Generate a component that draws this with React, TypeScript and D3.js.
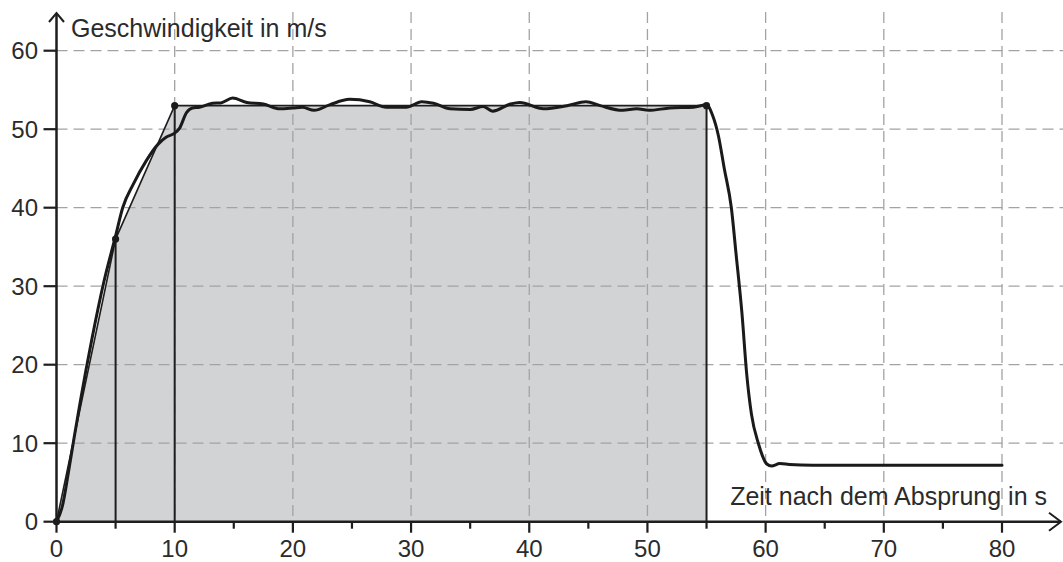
import React from "react";
import * as d3 from "d3";

const xTicksMajor = [0, 10, 20, 30, 40, 50, 60, 70, 80];
const xTicksMinor = [5, 15, 25, 35, 45, 55, 65, 75];
const yTicks = [0, 10, 20, 30, 40, 50, 60];

// Trapezoid approximation (polygon) points
const polyT = [0, 5, 10, 55];
const polyV = [0, 36, 53, 53];

// Measured speed curve
const curveT = [0, 0.5, 1, 1.5, 2, 3, 4, 5, 5.6, 6.5, 7.6, 8.6, 9.3, 10, 10.4, 11, 11.5, 12.1, 13.2, 13.9, 14.9, 16.1, 17.5, 18.9, 20, 20.8, 21.8, 23.1, 24.8, 26.5, 27.9, 29.6, 30.9, 31.9, 33.3, 35, 36.1, 36.9, 38.4, 39.2, 41.2, 43.2, 44.8, 46, 47.9, 49.1, 50.1, 51.9, 53.9, 55, 55.5, 56, 56.5, 57.1, 57.5, 58, 58.4, 58.8, 59.4, 60.1, 60.5, 61.2, 62, 64, 70, 80];
const curveV = [0, 2, 6.2, 10.8, 15.2, 23.3, 30.5, 36.4, 40, 43, 46, 48.1, 49, 49.5, 50.1, 52.1, 52.7, 52.8, 53.3, 53.35, 53.97, 53.4, 53.2, 52.6, 52.7, 52.8, 52.4, 53.1, 53.8, 53.5, 52.8, 52.8, 53.5, 53.3, 52.6, 52.5, 52.9, 52.3, 53.2, 53.4, 52.6, 53.0, 53.5, 53.0, 52.4, 52.6, 52.4, 52.7, 52.8, 53.1, 51.8, 49.2, 45.0, 40, 34.1, 26.5, 18.8, 13.7, 9.9, 7.35, 7.1, 7.4, 7.3, 7.2, 7.2, 7.2];

const yTitle = "Geschwindigkeit in m/s";
const xTitle = "Zeit nach dem Absprung in s";

const W = 1063;
const H = 562;

export default function App() {
  const x = d3.scaleLinear().domain([0, 80]).range([56.5, 1002]);
  const y = d3.scaleLinear().domain([0, 60]).range([521.7, 50.7]);

  const polyPts: [number, number][] = polyT.map((t, i) => [t, polyV[i]]);
  const area = d3
    .area<[number, number]>()
    .x((d) => x(d[0]))
    .y0(y(0))
    .y1((d) => y(d[1]));
  const polyLine = d3
    .line<[number, number]>()
    .x((d) => x(d[0]))
    .y((d) => y(d[1]));

  const curvePts: [number, number][] = curveT.map((t, i) => [t, curveV[i]]);
  const curve = d3
    .line<[number, number]>()
    .x((d) => x(d[0]))
    .y((d) => y(d[1]))
    .curve(d3.curveMonotoneX);

  const font = "'Liberation Sans', Arial, sans-serif";
  const textColor = "#2b2b2b";
  const axisColor = "#1e1e1e";
  const gridColor = "#a3a3a3";
  const x0 = x(0);
  const y0 = y(0);

  return (
    <svg
      width={W}
      height={H}
      style={{ position: "absolute", left: 0, top: 0, background: "#fff" }}
    >
      {/* fill */}
      <path d={area(polyPts) || ""} fill="#d2d3d5" stroke="none" />

      {/* grid */}
      {xTicksMajor.filter((t) => t > 0).map((t) => (
        <line
          key={"gx" + t}
          x1={x(t)}
          x2={x(t)}
          y1={12}
          y2={y0}
          stroke={gridColor}
          strokeWidth={1.3}
          strokeDasharray="11,6"
        />
      ))}
      {yTicks.filter((t) => t > 0).map((t) => (
        <line
          key={"gy" + t}
          x1={x0}
          x2={W}
          y1={y(t)}
          y2={y(t)}
          stroke={gridColor}
          strokeWidth={1.3}
          strokeDasharray="11,6"
        />
      ))}

      {/* polygon outline */}
      <path d={polyLine(polyPts) || ""} fill="none" stroke={axisColor} strokeWidth={1.6} />
      {polyT.slice(1).map((t, i) => (
        <line
          key={"v" + t}
          x1={x(t)}
          x2={x(t)}
          y1={y(polyV[i + 1])}
          y2={y0}
          stroke={axisColor}
          strokeWidth={2}
        />
      ))}

      {/* curve */}
      <path
        d={curve(curvePts) || ""}
        fill="none"
        stroke="#1a1a1a"
        strokeWidth={3}
        strokeLinejoin="round"
        strokeLinecap="round"
      />

      {/* points */}
      {polyT.map((t, i) => (
        <circle key={"p" + t} cx={x(t)} cy={y(polyV[i])} r={3.6} fill="#1a1a1a" />
      ))}

      {/* axes */}
      <line x1={x0} x2={1061} y1={y0} y2={y0} stroke={axisColor} strokeWidth={2.5} />
      <polyline
        points={`1049,${y0 - 9} 1061,${y0} 1049,${y0 + 9}`}
        fill="none"
        stroke={axisColor}
        strokeWidth={2}
      />
      <line x1={x0} x2={x0} y1={y0} y2={13} stroke={axisColor} strokeWidth={2.5} />
      <polyline
        points={`${x0 - 7.5},22 ${x0},13 ${x0 + 7.5},22`}
        fill="none"
        stroke={axisColor}
        strokeWidth={2}
      />

      {/* x ticks */}
      {xTicksMajor.map((t) => (
        <line key={"xt" + t} x1={x(t)} x2={x(t)} y1={y0} y2={y0 + 11} stroke={axisColor} strokeWidth={2.2} />
      ))}
      {xTicksMinor.map((t) => (
        <line key={"xm" + t} x1={x(t)} x2={x(t)} y1={y0} y2={y0 + 7} stroke={axisColor} strokeWidth={2.2} />
      ))}
      {xTicksMajor.map((t) => (
        <text
          key={"xl" + t}
          x={x(t)}
          y={557}
          textAnchor="middle"
          fontFamily={font}
          fontSize={24}
          fill={textColor}
        >
          {t}
        </text>
      ))}

      {/* y ticks */}
      {yTicks.map((t) => (
        <line key={"yt" + t} x1={x0 - 13} x2={x0} y1={y(t)} y2={y(t)} stroke={axisColor} strokeWidth={2.2} />
      ))}
      {yTicks.map((t) => (
        <text
          key={"yl" + t}
          x={38}
          y={y(t) + 8.5}
          textAnchor="end"
          fontFamily={font}
          fontSize={24}
          fill={textColor}
        >
          {t}
        </text>
      ))}

      {/* titles */}
      <text x={71} y={37} fontFamily={font} fontSize={25} fill={textColor}>
        {yTitle}
      </text>
      <text x={1047} y={505} textAnchor="end" fontFamily={font} fontSize={25} fill={textColor}>
        {xTitle}
      </text>
    </svg>
  );
}
